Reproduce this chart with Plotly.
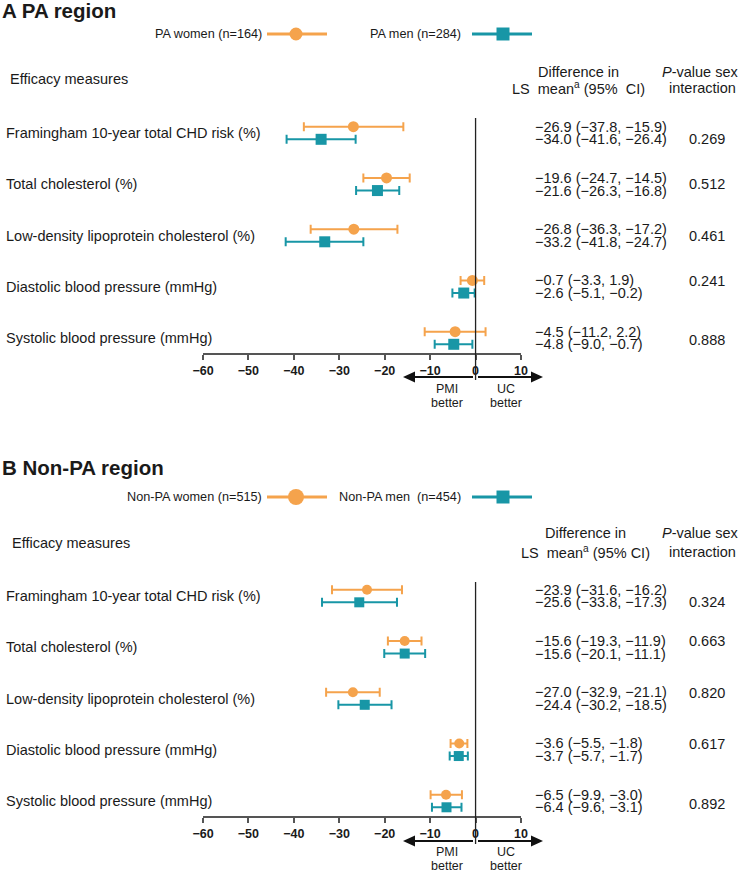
import plotly.graph_objects as go

W, H = 742, 872

# ---------------- data ----------------
measures = [
    "Framingham 10-year total CHD risk (%)",
    "Total cholesterol (%)",
    "Low-density lipoprotein cholesterol (%)",
    "Diastolic blood pressure (mmHg)",
    "Systolic blood pressure (mmHg)",
]

pa_women_mean = [-26.9, -19.6, -26.8, -0.7, -4.5]
pa_women_lo = [-37.8, -24.7, -36.3, -3.3, -11.2]
pa_women_hi = [-15.9, -14.5, -17.2, 1.9, 2.2]
pa_men_mean = [-34.0, -21.6, -33.2, -2.6, -4.8]
pa_men_lo = [-41.6, -26.3, -41.8, -5.1, -9.0]
pa_men_hi = [-26.4, -16.8, -24.7, -0.2, -0.7]
pa_pvalues = ["0.269", "0.512", "0.461", "0.241", "0.888"]

npa_women_mean = [-23.9, -15.6, -27.0, -3.6, -6.5]
npa_women_lo = [-31.6, -19.3, -32.9, -5.5, -9.9]
npa_women_hi = [-16.2, -11.9, -21.1, -1.8, -3.0]
npa_men_mean = [-25.6, -15.6, -24.4, -3.7, -6.4]
npa_men_lo = [-33.8, -20.1, -30.2, -5.7, -9.6]
npa_men_hi = [-17.3, -11.1, -18.5, -1.7, -3.1]
npa_pvalues = ["0.324", "0.663", "0.820", "0.617", "0.892"]

tick_vals = [-60, -50, -40, -30, -20, -10, 0, 10]
tick_text = ["\u221260", "\u221250", "\u221240", "\u221230", "\u221220", "\u221210", "0", "10"]

panel_titles = ["A PA region", "B Non-PA region"]
legend_labels = [("PA women (n=164)", "PA men (n=284)"),
                 ("Non-PA women (n=515)", "Non-PA men\u00a0 (n=454)")]

# ---------------- style / layout ----------------
ORANGE = "#F5A34C"
TEAL = "#1896A6"
TXT = "#1a1a1a"
FONT = "Arial, Liberation Sans, sans-serif"
OFF = 0.123
pa_p_off = [0.117, 0.0, 0.0, -0.117, 0.04]
npa_p_off = [0.117, -0.117, -0.117, -0.117, 0.05]

def px_x(p):
    return p / W

def px_y(p):
    return 1 - p / H

rows = list(range(len(measures)))

fig = go.Figure()

def fmt(v):
    return f"{v:.1f}".replace("-", "\u2212")

def add_series(mean, lo, hi, color, symbol, size, offset, xa, ya):
    fig.add_trace(go.Scatter(
        x=mean,
        y=[r + offset for r in rows],
        mode="markers",
        marker=dict(symbol=symbol, size=size, color=color, line=dict(width=0)),
        error_x=dict(type="data", symmetric=False,
                     array=[h - m for h, m in zip(hi, mean)],
                     arrayminus=[m - l for m, l in zip(mean, lo)],
                     color=color, thickness=2, width=4.5),
        xaxis=xa, yaxis=ya, showlegend=False, hoverinfo="skip",
    ))

add_series(pa_women_mean, pa_women_lo, pa_women_hi, ORANGE, "circle", 11, -OFF, "x", "y")
add_series(pa_men_mean, pa_men_lo, pa_men_hi, TEAL, "square", 11, OFF, "x", "y")
add_series(npa_women_mean, npa_women_lo, npa_women_hi, ORANGE, "circle", 10, -OFF, "x2", "y2")
add_series(npa_men_mean, npa_men_lo, npa_men_hi, TEAL, "square", 10, OFF, "x2", "y2")

annotations = []
shapes = []

def text(x, y, s, size=14.5, xanchor="left", yanchor="middle", xref="paper", yref="paper", bold=False):
    annotations.append(dict(
        x=x, y=y, xref=xref, yref=yref, text=(f"<b>{s}</b>" if bold else s),
        showarrow=False, xanchor=xanchor, yanchor=yanchor,
        font=dict(family=FONT, size=size, color=TXT)))

def arrow(x_tail, x_tip, y):
    d = 1 if x_tip > x_tail else -1
    base = x_tip - d * 12
    shapes.append(dict(type="line", xref="paper", yref="paper",
                       x0=px_x(x_tail), x1=px_x(base), y0=px_y(y), y1=px_y(y),
                       line=dict(color="#111", width=2)))
    path = (f"M {px_x(x_tip)},{px_y(y)} L {px_x(base)},{px_y(y - 5.5)} "
            f"L {px_x(base)},{px_y(y + 5.5)} Z")
    shapes.append(dict(type="path", xref="paper", yref="paper", path=path,
                       fillcolor="#111", line=dict(width=0)))

panels = [
    dict(off=0, yref="y", xref="x",
         data=((pa_women_mean, pa_women_lo, pa_women_hi), (pa_men_mean, pa_men_lo, pa_men_hi)),
         pv=pa_pvalues, poff=pa_p_off, eff_x=8),
    dict(off=464, yref="y2", xref="x2",
         data=((npa_women_mean, npa_women_lo, npa_women_hi), (npa_men_mean, npa_men_lo, npa_men_hi)),
         pv=npa_pvalues, poff=npa_p_off, eff_x=10),
]

for k, p in enumerate(panels):
    o = p["off"]
    text(px_x(0), px_y(11 + o - (8 if k else 0)), panel_titles[k], size=20.5, bold=True)
    ly = 34 + o - (1 if k else 0)
    lw, lm = legend_labels[k]
    text(px_x(264), px_y(ly), lw, size=12.7, xanchor="right")
    text(px_x(463), px_y(ly), lm, size=12.7, xanchor="right")
    shapes.append(dict(type="line", xref="paper", yref="paper",
                       x0=px_x(267), x1=px_x(327), y0=px_y(ly), y1=px_y(ly),
                       line=dict(color=ORANGE, width=3)))
    shapes.append(dict(type="line", xref="paper", yref="paper",
                       x0=px_x(472), x1=px_x(532), y0=px_y(ly), y1=px_y(ly),
                       line=dict(color=TEAL, width=3)))
    rc = 6.5 if k == 0 else 8
    shapes.append(dict(type="circle", xref="paper", yref="paper",
                       x0=px_x(296 - rc), x1=px_x(296 + rc), y0=px_y(ly + rc), y1=px_y(ly - rc),
                       fillcolor=ORANGE, line=dict(width=0)))
    rs = 6.5
    shapes.append(dict(type="rect", xref="paper", yref="paper",
                       x0=px_x(503 - rs), x1=px_x(503 + rs), y0=px_y(ly + rs), y1=px_y(ly - rs),
                       fillcolor=TEAL, line=dict(width=0)))
    hy1 = 72 + o - (3 if k else 0)
    hy2 = 88 + o
    hcx = 578 if k == 0 else 585
    text(px_x(p["eff_x"]), px_y(79 + o), "Efficacy measures")
    text(px_x(hcx), px_y(hy1), "Difference in", xanchor="center")
    text(px_x(hcx), px_y(hy2),
         "LS\u00a0 mean<sup>a</sup> (95%\u00a0 CI)" if k == 0 else "LS\u00a0 mean<sup>a</sup> (95% CI)",
         xanchor="center")
    text(px_x(700), px_y(hy1), "<i>P</i>-value sex", xanchor="center")
    text(px_x(702), px_y(hy2), "interaction", xanchor="center")
    (wm, wl, wh), (mm, ml, mh) = p["data"]
    for r in rows:
        text(px_x(4), r, measures[r], yref=p["yref"])
        text(px_x(533), r - OFF, f"{fmt(wm[r])} ({fmt(wl[r])}, {fmt(wh[r])})", yref=p["yref"])
        text(px_x(533), r + OFF, f"{fmt(mm[r])} ({fmt(ml[r])}, {fmt(mh[r])})", yref=p["yref"])
        text(px_x(687), r + p["poff"][r], p["pv"][r], yref=p["yref"])
    shapes.append(dict(type="line", xref=p["xref"], yref="paper", x0=0, x1=0,
                       y0=px_y(380 + o), y1=px_y(118 + o),
                       line=dict(color="#222", width=1.3)))
    arrow(473, 403, 377 + o)
    arrow(478, 543, 377 + o)
    by = 389 + o - (1 if k else 0)
    text(px_x(447), px_y(by), "PMI", size=12.5, xanchor="center")
    text(px_x(447), px_y(by + 14), "better", size=12.5, xanchor="center")
    text(px_x(506), px_y(by), "UC", size=12.5, xanchor="center")
    text(px_x(506), px_y(by + 14), "better", size=12.5, xanchor="center")

xaxis_common = dict(
    range=[-60, 10], tickvals=tick_vals, ticktext=tick_text,
    showline=True, linecolor="#555", linewidth=1.5,
    ticks="outside", ticklen=5, tickwidth=1.5, tickcolor="#555",
    tickfont=dict(family=FONT, size=12.5, color=TXT, weight="bold"),
    showgrid=False, zeroline=False, fixedrange=True,
    domain=[203 / W, 521 / W],
)
yaxis_common = dict(range=[4.293, -0.41], visible=False, showgrid=False,
                    zeroline=False, fixedrange=True)

fig.update_layout(
    width=W, height=H, autosize=False,
    margin=dict(l=0, r=0, t=0, b=0, autoexpand=False),
    paper_bgcolor="white", plot_bgcolor="white",
    font=dict(family=FONT, color=TXT),
    xaxis=dict(xaxis_common, anchor="y"),
    yaxis=dict(yaxis_common, domain=[px_y(353), px_y(112)], anchor="x"),
    xaxis2=dict(xaxis_common, anchor="y2"),
    yaxis2=dict(yaxis_common, domain=[px_y(816), px_y(575)], anchor="x2"),
    annotations=annotations,
    shapes=shapes,
)

fig.write_html("out.html", config={"displayModeBar": False},
               post_script="document.body.style.margin='0';")
